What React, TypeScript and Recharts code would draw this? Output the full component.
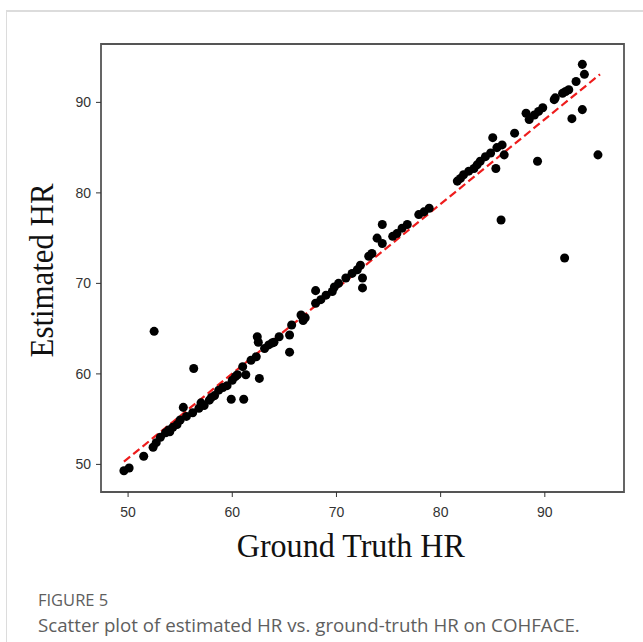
import React from 'react';
import { ScatterChart, Scatter, XAxis, YAxis, ZAxis, ReferenceLine, ReferenceArea } from 'recharts';

const groundTruth = [
  49.6, 50.1, 51.5, 52.4, 52.7, 52.5, 53.1, 53.6, 53.9, 54.0, 54.3, 54.7, 55.0, 55.3, 55.6, 56.2, 56.3, 56.8,
  57.0, 57.3, 57.8, 58.0, 58.3, 58.7, 59.1, 59.5, 59.9, 60.0, 60.3, 60.5, 61.1, 61.3, 61.0, 61.8, 62.4, 62.5,
  62.6, 62.3, 63.1, 63.5, 63.8, 64.0, 64.5, 65.5, 65.5, 65.7, 66.8, 66.6, 67.0, 68.0, 68.0, 68.5, 69.0, 69.6,
  69.8, 70.2, 70.9, 71.5, 72.0, 72.5, 72.5, 72.3, 73.1, 73.4, 73.9, 74.4, 74.4, 75.4, 75.8, 76.3, 76.8, 77.9,
  78.4, 78.9, 81.6, 81.9, 82.2, 82.7, 83.2, 83.5, 83.8, 84.3, 84.8, 85.0, 85.3, 85.8, 85.9, 86.1, 85.4, 87.1,
  88.2, 88.5, 89.0, 89.3, 89.4, 89.8, 90.9, 91.0, 91.7, 92.0, 92.3, 91.9, 92.6, 93.0, 93.6, 93.6, 93.8, 95.1,
];
const estimatedHR = [
  49.3, 49.6, 50.9, 51.9, 52.4, 64.7, 53.0, 53.5, 53.8, 53.6, 54.1, 54.4, 54.9, 56.3, 55.3, 55.7, 60.6, 56.2,
  56.8, 56.5, 57.1, 57.4, 57.6, 58.2, 58.5, 58.7, 57.2, 59.3, 59.7, 59.9, 57.2, 59.9, 60.8, 61.5, 64.1, 63.5,
  59.5, 61.9, 62.8, 63.2, 63.4, 63.5, 64.1, 62.4, 64.3, 65.4, 65.9, 66.5, 66.2, 69.2, 67.8, 68.2, 68.7, 69.1,
  69.6, 70.0, 70.6, 71.1, 71.5, 70.6, 69.5, 72.0, 73.0, 73.3, 75.0, 76.5, 74.4, 75.2, 75.5, 76.1, 76.5, 77.6,
  77.9, 78.3, 81.3, 81.6, 82.0, 82.4, 82.7, 83.1, 83.5, 84.0, 84.4, 86.1, 82.7, 77.0, 85.3, 84.2, 85.0, 86.6,
  88.8, 88.1, 88.6, 83.5, 89.0, 89.4, 90.3, 90.5, 91.0, 91.2, 91.4, 72.8, 88.2, 92.3, 89.2, 94.2, 93.1, 84.2,
];
const fitLineX = [49.6, 95.3];
const fitLineY = [50.3, 93.1];
const xTicks = [50, 60, 70, 80, 90];
const yTicks = [50, 60, 70, 80, 90];
const xDomain = [47.4, 97.6];
const yDomain = [46.95, 96.45];

const points = groundTruth.map((x, i) => ({ x, y: estimatedHR[i] }));

const tickStyle = { fontFamily: '"Liberation Sans", Arial, sans-serif', fontSize: 14, fill: '#333' };
const serif = '"Liberation Serif", "Times New Roman", serif';

export default function App() {
  return (
    <div style={{ position: 'absolute', left: 0, top: 0, width: 643, height: 642, background: '#fff', overflow: 'hidden' }}>
      <div style={{ position: 'absolute', left: 6, top: 10, width: 637, height: 2, background: '#dcdcdc' }} />
      <div style={{ position: 'absolute', left: 6, top: 10, width: 1, height: 632, background: '#dcdcdc' }} />
      <div style={{ position: 'absolute', left: 0, top: 0 }}>
        <ScatterChart width={643} height={600} margin={{ top: 44, right: 19, bottom: 38, left: 0 }}>
          <XAxis
            type="number"
            dataKey="x"
            domain={xDomain}
            ticks={xTicks}
            allowDataOverflow
            axisLine={false}
            tickLine={{ stroke: '#333' }}
            tickSize={5}
            tickMargin={10}
            tick={tickStyle}
            height={70}
            label={{
              content: (props: any) => {
                const vb = props.viewBox || {};
                const cx = vb.x + vb.width / 2 - 11.7;
                const by = vb.y + 65.2;
                return (
                  <text transform={`translate(${cx} ${by}) scale(0.952 1)`} x={0} y={0} textAnchor="middle" fontFamily={serif} fontSize={33.7} fill="#111">
                    Ground Truth HR
                  </text>
                );
              },
            }}
          />
          <YAxis
            type="number"
            dataKey="y"
            domain={yDomain}
            ticks={yTicks}
            allowDataOverflow
            axisLine={false}
            tickLine={{ stroke: '#333' }}
            tickSize={5}
            tickMargin={5}
            tick={tickStyle}
            width={101}
            label={{
              content: (props: any) => {
                const vb = props.viewBox || {};
                const bx = vb.x + 53.3;
                const cy = vb.y + vb.height / 2 + 2.5;
                return (
                  <text transform={`translate(${bx} ${cy}) rotate(-90) scale(0.935 1)`} x={0} y={0} textAnchor="middle" fontFamily={serif} fontSize={33} fill="#111">
                    Estimated HR
                  </text>
                );
              },
            }}
          />
          <ZAxis range={[125, 125]} />
          <ReferenceArea x1={xDomain[0]} x2={xDomain[1]} y1={yDomain[0]} y2={yDomain[1]} fill="none" stroke="#555" strokeWidth={1.8} fillOpacity={0} />
          <Scatter data={points} fill="#000" shape="circle" isAnimationActive={false} />
          <ReferenceLine
            segment={[
              { x: fitLineX[0], y: fitLineY[0] },
              { x: fitLineX[1], y: fitLineY[1] },
            ]}
            stroke="#ee1c1c"
            strokeWidth={2.2}
            strokeDasharray="8 4"
          />
        </ScatterChart>
      </div>
      <div style={{ position: 'absolute', left: 38, top: 592, fontFamily: '"Open Sans", sans-serif', fontSize: 16.5, color: '#5e5e5e', lineHeight: 1, whiteSpace: 'nowrap' }}>
        FIGURE 5
      </div>
      <div style={{ position: 'absolute', left: 38, top: 615.5, fontFamily: '"Open Sans", sans-serif', fontSize: 18.7, color: '#5e5e5e', lineHeight: 1, whiteSpace: 'nowrap' }}>
        Scatter plot of estimated HR vs. ground-truth HR on COHFACE.
      </div>
    </div>
  );
}
